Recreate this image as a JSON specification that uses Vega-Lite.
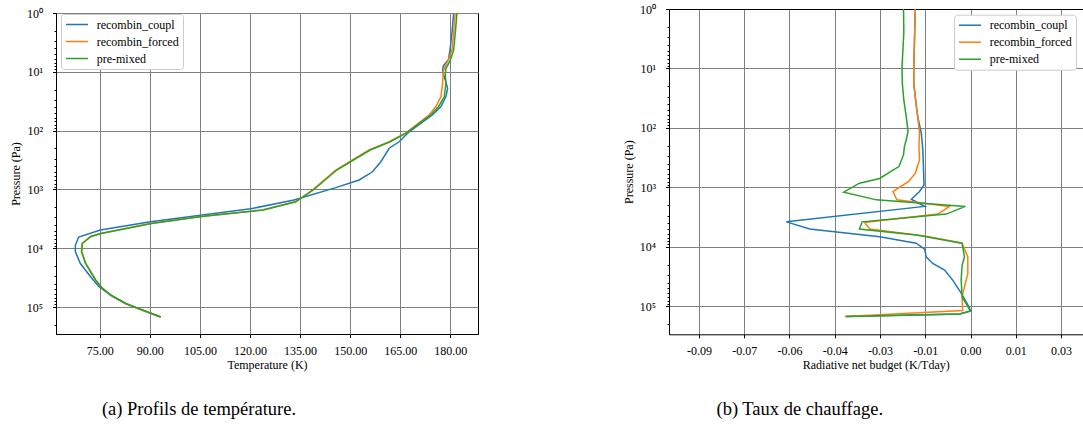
{
  "$schema": "https://vega.github.io/schema/vega-lite/v6.json",
  "background": "white",
  "padding": {"left": 8, "top": 3, "right": 0, "bottom": 0},
  "autosize": {"type": "pad"},
  "spacing": 143,
  "config": {
    "font": "Liberation Serif",
    "view": {"stroke": "black", "strokeWidth": 1},
    "axis": {
      "labelFont": "Liberation Serif", "labelFontSize": 12, "labelColor": "black",
      "titleFont": "Liberation Serif", "titleFontSize": 12, "titleFontWeight": "normal", "titleColor": "black",
      "domainColor": "black", "tickColor": "black", "tickSize": 3.5, "tickWidth": 1,
      "gridColor": "#808080", "gridOpacity": 1, "gridWidth": 1
    },
    "legend": {
      "labelFont": "Liberation Serif", "labelFontSize": 12, "labelColor": "black",
      "symbolType": "M-1,0H3", "symbolSize": 121, "symbolStrokeWidth": 1.5, "symbolFillColor": "transparent",
      "labelOffset": 18.7, "rowPadding": 4, "padding": 4,
      "strokeColor": "#cccccc", "fillColor": "white", "cornerRadius": 3
    },
    "title": {"font": "Liberation Serif", "fontSize": 18.5, "fontWeight": "normal", "color": "black"}
  },
  "datasets": {
    "temp": [
      {"s":"recombin_coupl","T":181.0,"p":1},{"s":"recombin_coupl","T":180.5,"p":2.188},{"s":"recombin_coupl","T":179.9,"p":4.266},{"s":"recombin_coupl","T":179.4,"p":6.31},{"s":"recombin_coupl","T":177.9,"p":7.943},{"s":"recombin_coupl","T":177.7,"p":9.772},{"s":"recombin_coupl","T":178.5,"p":13.8},{"s":"recombin_coupl","T":179.2,"p":19.05},{"s":"recombin_coupl","T":178.7,"p":26.3},{"s":"recombin_coupl","T":177.2,"p":38.9},{"s":"recombin_coupl","T":174.7,"p":53.7},{"s":"recombin_coupl","T":167.7,"p":104.7},{"s":"recombin_coupl","T":164.7,"p":154.9},{"s":"recombin_coupl","T":161.7,"p":199.5},{"s":"recombin_coupl","T":159.2,"p":338.8},{"s":"recombin_coupl","T":156.7,"p":501.2},{"s":"recombin_coupl","T":152.7,"p":691.8},{"s":"recombin_coupl","T":145.7,"p":933.3},{"s":"recombin_coupl","T":133.2,"p":1514},{"s":"recombin_coupl","T":120.2,"p":2138},{"s":"recombin_coupl","T":105.2,"p":2754},{"s":"recombin_coupl","T":90.2,"p":3548},{"s":"recombin_coupl","T":75.2,"p":4898},{"s":"recombin_coupl","T":68.7,"p":6457},{"s":"recombin_coupl","T":67.7,"p":8913},{"s":"recombin_coupl","T":67.7,"p":11480},{"s":"recombin_coupl","T":69.2,"p":18200},{"s":"recombin_coupl","T":72.2,"p":30200},{"s":"recombin_coupl","T":74.7,"p":44670},{"s":"recombin_coupl","T":78.3,"p":63100},{"s":"recombin_coupl","T":82.7,"p":87100},{"s":"recombin_coupl","T":86.7,"p":107200},{"s":"recombin_coupl","T":93.2,"p":147900},
      {"s":"recombin_forced","T":181.5,"p":1},{"s":"recombin_forced","T":181.0,"p":2.188},{"s":"recombin_forced","T":180.5,"p":4.266},{"s":"recombin_forced","T":179.4,"p":6.31},{"s":"recombin_forced","T":178.7,"p":7.586},{"s":"recombin_forced","T":177.9,"p":9.772},{"s":"recombin_forced","T":177.7,"p":15.49},{"s":"recombin_forced","T":177.2,"p":26.3},{"s":"recombin_forced","T":175.7,"p":38.9},{"s":"recombin_forced","T":173.7,"p":53.7},{"s":"recombin_forced","T":166.7,"p":109.6},{"s":"recombin_forced","T":161.7,"p":154.9},{"s":"recombin_forced","T":155.7,"p":213.8},{"s":"recombin_forced","T":150.7,"p":316.2},{"s":"recombin_forced","T":145.7,"p":467.7},{"s":"recombin_forced","T":138.7,"p":1023},{"s":"recombin_forced","T":133.7,"p":1622},{"s":"recombin_forced","T":123.7,"p":2239},{"s":"recombin_forced","T":105.2,"p":2884},{"s":"recombin_forced","T":90.2,"p":3802},{"s":"recombin_forced","T":75.2,"p":5623},{"s":"recombin_forced","T":72.2,"p":6310},{"s":"recombin_forced","T":69.7,"p":8318},{"s":"recombin_forced","T":69.5,"p":11480},{"s":"recombin_forced","T":70.7,"p":18200},{"s":"recombin_forced","T":73.7,"p":34670},{"s":"recombin_forced","T":75.7,"p":47860},{"s":"recombin_forced","T":78.3,"p":63100},{"s":"recombin_forced","T":82.7,"p":87100},{"s":"recombin_forced","T":86.7,"p":107200},{"s":"recombin_forced","T":93.2,"p":147900},
      {"s":"pre-mixed","T":182.0,"p":1},{"s":"pre-mixed","T":181.5,"p":2.188},{"s":"pre-mixed","T":181.0,"p":4.266},{"s":"pre-mixed","T":179.9,"p":6.607},{"s":"pre-mixed","T":178.7,"p":8.71},{"s":"pre-mixed","T":178.5,"p":11.22},{"s":"pre-mixed","T":178.7,"p":15.49},{"s":"pre-mixed","T":178.2,"p":26.3},{"s":"pre-mixed","T":176.5,"p":38.9},{"s":"pre-mixed","T":174.2,"p":53.7},{"s":"pre-mixed","T":166.9,"p":109.6},{"s":"pre-mixed","T":162.0,"p":154.9},{"s":"pre-mixed","T":156.0,"p":213.8},{"s":"pre-mixed","T":151.0,"p":316.2},{"s":"pre-mixed","T":146.0,"p":467.7},{"s":"pre-mixed","T":139.0,"p":1023},{"s":"pre-mixed","T":133.7,"p":1622},{"s":"pre-mixed","T":124.0,"p":2239},{"s":"pre-mixed","T":105.5,"p":2884},{"s":"pre-mixed","T":90.5,"p":3802},{"s":"pre-mixed","T":75.4,"p":5623},{"s":"pre-mixed","T":72.4,"p":6310},{"s":"pre-mixed","T":69.8,"p":8318},{"s":"pre-mixed","T":69.6,"p":11480},{"s":"pre-mixed","T":70.8,"p":18200},{"s":"pre-mixed","T":73.8,"p":34670},{"s":"pre-mixed","T":75.8,"p":47860},{"s":"pre-mixed","T":78.4,"p":63100},{"s":"pre-mixed","T":82.8,"p":87100},{"s":"pre-mixed","T":86.8,"p":107200},{"s":"pre-mixed","T":93.3,"p":147900}
    ],
    "rad": [
      {"s":"recombin_coupl","Q":-0.0183,"p":1},{"s":"recombin_coupl","Q":-0.0185,"p":2.512},{"s":"recombin_coupl","Q":-0.0188,"p":9.333},{"s":"recombin_coupl","Q":-0.0188,"p":17.78},{"s":"recombin_coupl","Q":-0.0182,"p":33.88},{"s":"recombin_coupl","Q":-0.0175,"p":64.57},{"s":"recombin_coupl","Q":-0.0163,"p":123.0},{"s":"recombin_coupl","Q":-0.0158,"p":234.4},{"s":"recombin_coupl","Q":-0.0156,"p":446.7},{"s":"recombin_coupl","Q":-0.0154,"p":912.0},{"s":"recombin_coupl","Q":-0.0169,"p":1175},{"s":"recombin_coupl","Q":-0.0196,"p":1585},{"s":"recombin_coupl","Q":-0.0152,"p":2089},{"s":"recombin_coupl","Q":-0.0610,"p":3802},{"s":"recombin_coupl","Q":-0.0533,"p":5012},{"s":"recombin_coupl","Q":-0.0301,"p":6761},{"s":"recombin_coupl","Q":-0.0180,"p":8710},{"s":"recombin_coupl","Q":-0.0152,"p":10960},{"s":"recombin_coupl","Q":-0.0147,"p":14790},{"s":"recombin_coupl","Q":-0.0125,"p":19050},{"s":"recombin_coupl","Q":-0.0086,"p":24550},{"s":"recombin_coupl","Q":-0.0059,"p":36310},{"s":"recombin_coupl","Q":-0.0031,"p":60260},{"s":"recombin_coupl","Q":-0.0003,"p":107200},{"s":"recombin_coupl","Q":0.0,"p":120200},{"s":"recombin_coupl","Q":-0.0036,"p":134900},{"s":"recombin_coupl","Q":-0.0412,"p":147900},
      {"s":"recombin_forced","Q":-0.0183,"p":1},{"s":"recombin_forced","Q":-0.0185,"p":2.512},{"s":"recombin_forced","Q":-0.0188,"p":9.333},{"s":"recombin_forced","Q":-0.0188,"p":17.78},{"s":"recombin_forced","Q":-0.0182,"p":33.88},{"s":"recombin_forced","Q":-0.0175,"p":64.57},{"s":"recombin_forced","Q":-0.0169,"p":123.0},{"s":"recombin_forced","Q":-0.0171,"p":204.2},{"s":"recombin_forced","Q":-0.0169,"p":346.7},{"s":"recombin_forced","Q":-0.0183,"p":575.4},{"s":"recombin_forced","Q":-0.0205,"p":794.3},{"s":"recombin_forced","Q":-0.0257,"p":1175},{"s":"recombin_forced","Q":-0.0244,"p":1622},{"s":"recombin_forced","Q":-0.0070,"p":2089},{"s":"recombin_forced","Q":-0.0108,"p":2818},{"s":"recombin_forced","Q":-0.0351,"p":3890},{"s":"recombin_forced","Q":-0.0334,"p":5012},{"s":"recombin_forced","Q":-0.0147,"p":6607},{"s":"recombin_forced","Q":-0.0028,"p":8710},{"s":"recombin_forced","Q":-0.0009,"p":14790},{"s":"recombin_forced","Q":-0.0009,"p":28180},{"s":"recombin_forced","Q":-0.0020,"p":46770},{"s":"recombin_forced","Q":-0.0028,"p":69180},{"s":"recombin_forced","Q":-0.0026,"p":117500},{"s":"recombin_forced","Q":-0.0417,"p":147900},
      {"s":"pre-mixed","Q":-0.0222,"p":1},{"s":"pre-mixed","Q":-0.0221,"p":2.512},{"s":"pre-mixed","Q":-0.0224,"p":4.898},{"s":"pre-mixed","Q":-0.0227,"p":9.333},{"s":"pre-mixed","Q":-0.0226,"p":17.78},{"s":"pre-mixed","Q":-0.0221,"p":33.88},{"s":"pre-mixed","Q":-0.0213,"p":64.57},{"s":"pre-mixed","Q":-0.0207,"p":114.8},{"s":"pre-mixed","Q":-0.0213,"p":158.5},{"s":"pre-mixed","Q":-0.0219,"p":204.2},{"s":"pre-mixed","Q":-0.0222,"p":281.8},{"s":"pre-mixed","Q":-0.0237,"p":446.7},{"s":"pre-mixed","Q":-0.0257,"p":512.9},{"s":"pre-mixed","Q":-0.0301,"p":707.9},{"s":"pre-mixed","Q":-0.0368,"p":851.1},{"s":"pre-mixed","Q":-0.0420,"p":1202},{"s":"pre-mixed","Q":-0.0312,"p":1622},{"s":"pre-mixed","Q":-0.0017,"p":2089},{"s":"pre-mixed","Q":-0.0080,"p":2818},{"s":"pre-mixed","Q":-0.0359,"p":3802},{"s":"pre-mixed","Q":-0.0368,"p":5012},{"s":"pre-mixed","Q":-0.0180,"p":6310},{"s":"pre-mixed","Q":-0.0028,"p":8710},{"s":"pre-mixed","Q":-0.0020,"p":14790},{"s":"pre-mixed","Q":-0.0028,"p":20420},{"s":"pre-mixed","Q":-0.0031,"p":36310},{"s":"pre-mixed","Q":-0.0028,"p":69180},{"s":"pre-mixed","Q":0.0,"p":120200},{"s":"pre-mixed","Q":-0.0036,"p":134900},{"s":"pre-mixed","Q":-0.0412,"p":147900}
    ]
  },
  "hconcat": [
    {
      "spacing": 3,
      "bounds": "flush",
      "vconcat": [
        {
          "width": 422,
          "height": 1,
          "data": {"values": []},
          "mark": "point",
          "view": {"stroke": null}
        },
        {
          "width": 422,
          "height": 321,
          "data": {"name": "temp"},
          "title": {"text": "(a) Profils de température.", "orient": "bottom", "anchor": "middle", "dx": -68, "offset": 44, "baseline": "alphabetic"},
          "layer": [
            {
              "mark": {"type": "line", "strokeWidth": 1.5},
              "encoding": {
                "x": {"field": "T", "type": "quantitative",
                      "scale": {"domain": [61.9, 188.3], "nice": false, "zero": false},
                      "axis": {"values": [75, 90, 105, 120, 135, 150, 165, 180], "format": ".2f", "title": "Temperature (K)", "grid": true, "labelPadding": 8, "titlePadding": 3}},
                "y": {"field": "p", "type": "quantitative",
                      "scale": {"type": "log", "domain": [1, 287700], "nice": false, "reverse": true},
                      "axis": {"values": [1, 10, 100, 1000, 10000, 100000], "labelExpr": "'10' + ['⁰','¹','²','³','⁴','⁵'][round(log(datum.value)/LN10)]", "title": "Pressure (Pa)", "grid": true, "labelPadding": 10, "titlePadding": 4}},
                "color": {"field": "s", "type": "nominal",
                          "scale": {"domain": ["recombin_coupl", "recombin_forced", "pre-mixed"], "range": ["#1f77b4", "#ff7f0e", "#2ca02c"]},
                          "legend": {"orient": "top-left", "offset": 5, "title": null}},
                "order": {"field": "p", "type": "quantitative"}
              }
            },
            {
              "mark": {"type": "line", "opacity": 0},
              "encoding": {
                "x": {"field": "T", "type": "quantitative", "axis": null},
                "y": {"field": "p", "type": "quantitative", "axis": {"orient": "left", "values": [2,3,4,5,6,7,8,9,20,30,40,50,60,70,80,90,200,300,400,500,600,700,800,900,2000,3000,4000,5000,6000,7000,8000,9000,20000,30000,40000,50000,60000,70000,80000,90000,200000], "labels": false, "grid": false, "domain": false, "tickSize": 2, "title": null}},
                "detail": {"field": "s"},
                "order": {"field": "p", "type": "quantitative"}
              }
            }
          ],
          "resolve": {"axis": {"x": "independent", "y": "independent"}}
        }
      ]
    },
    {
      "width": 413.5,
      "height": 325.3,
      "data": {"name": "rad"},
      "view": {"stroke": null},
      "title": {"text": "(b) Taux de chauffage.", "orient": "bottom", "anchor": "middle", "dx": -76, "offset": 44, "baseline": "alphabetic"},
      "layer": [
        {
          "mark": {"type": "line", "strokeWidth": 1.5},
          "encoding": {
            "x": {"field": "Q", "type": "quantitative",
                  "scale": {"domain": [-0.0999, 0.0371], "nice": false, "zero": false},
                  "axis": {"values": [-0.09, -0.075, -0.06, -0.045, -0.03, -0.015, 0, 0.015, 0.03], "labelExpr": "replace(format(datum.value, '.2f'), '−', '-')", "title": "Radiative net budget (K/Tday)", "grid": true, "labelPadding": 8, "titlePadding": 3}},
            "y": {"field": "p", "type": "quantitative",
                  "scale": {"type": "log", "domain": [1, 296000], "nice": false, "reverse": true},
                  "axis": {"values": [1, 10, 100, 1000, 10000, 100000], "labelExpr": "'10' + ['⁰','¹','²','³','⁴','⁵'][round(log(datum.value)/LN10)]", "title": "Pressure (Pa)", "grid": true, "labelPadding": 10, "titlePadding": 4}},
            "color": {"field": "s", "type": "nominal",
                      "scale": {"domain": ["recombin_coupl", "recombin_forced", "pre-mixed"], "range": ["#1f77b4", "#ff7f0e", "#2ca02c"]},
                      "legend": {"orient": "none", "legendX": 285, "legendY": 5.7, "title": null}},
            "order": {"field": "p", "type": "quantitative"}
          }
        },
        {
          "mark": {"type": "line", "opacity": 0},
          "encoding": {
            "x": {"field": "Q", "type": "quantitative", "axis": {"orient": "top", "labels": false, "ticks": false, "grid": false, "domain": true, "title": null}},
            "y": {"field": "p", "type": "quantitative", "axis": {"orient": "left", "values": [2,3,4,5,6,7,8,9,20,30,40,50,60,70,80,90,200,300,400,500,600,700,800,900,2000,3000,4000,5000,6000,7000,8000,9000,20000,30000,40000,50000,60000,70000,80000,90000,200000], "labels": false, "grid": false, "domain": false, "tickSize": 2, "title": null}},
            "detail": {"field": "s"},
            "order": {"field": "p", "type": "quantitative"}
          }
        }
      ],
      "resolve": {"axis": {"x": "independent", "y": "independent"}}
    }
  ],
  "resolve": {"scale": {"color": "independent"}, "legend": {"color": "independent"}}
}
